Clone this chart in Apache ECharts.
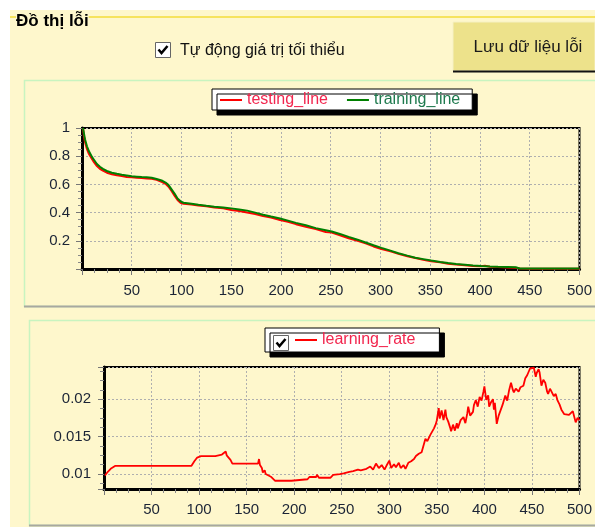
<!DOCTYPE html>
<html>
<head>
<meta charset="utf-8">
<script src="https://cdn.jsdelivr.net/npm/echarts@6/dist/echarts.min.js"></script>
<style>
    html, body { margin: 0; padding: 0; background: #fff; }
    #chart { width: 595px; height: 527px; }
</style>
</head>
<body>
<div id="chart"></div>
<script>
// Error chart (top)
const errorEpochs = [1, 2, 3, 5, 7, 10, 12, 15, 18, 21, 25, 30, 35, 40, 45, 50, 55, 60, 65, 70, 75, 80, 84, 87, 90, 93, 96, 99, 102, 110, 117, 125, 133, 142, 150, 158, 166, 174, 182, 190, 199, 207, 215, 225, 235, 245, 251, 260, 268, 277, 285, 293, 301, 310, 318, 327, 335, 343, 351, 360, 368, 376, 385, 393, 401, 405, 410, 418, 428, 436, 440, 450, 470, 500];
const trainingLine = [1.0, 0.96, 0.92, 0.87, 0.835, 0.795, 0.775, 0.745, 0.725, 0.71, 0.695, 0.683, 0.675, 0.668, 0.663, 0.658, 0.655, 0.652, 0.65, 0.647, 0.638, 0.628, 0.613, 0.595, 0.565, 0.535, 0.5, 0.48, 0.47, 0.462, 0.455, 0.448, 0.442, 0.436, 0.43, 0.422, 0.414, 0.4, 0.385, 0.372, 0.358, 0.343, 0.327, 0.31, 0.29, 0.275, 0.266, 0.247, 0.228, 0.208, 0.188, 0.168, 0.15, 0.13, 0.112, 0.095, 0.08, 0.07, 0.06, 0.05, 0.042, 0.035, 0.03, 0.025, 0.021, 0.02, 0.018, 0.016, 0.014, 0.012, 0.004, 0.003, 0.003, 0.003];
const testingLine = [1.0, 0.94, 0.9, 0.85, 0.815, 0.78, 0.758, 0.73, 0.71, 0.697, 0.683, 0.672, 0.665, 0.66, 0.652, 0.65, 0.648, 0.646, 0.642, 0.64, 0.632, 0.618, 0.604, 0.583, 0.553, 0.52, 0.49, 0.47, 0.462, 0.458, 0.45, 0.445, 0.436, 0.43, 0.418, 0.412, 0.4, 0.39, 0.375, 0.365, 0.348, 0.335, 0.318, 0.3, 0.283, 0.262, 0.258, 0.238, 0.218, 0.2, 0.182, 0.16, 0.142, 0.125, 0.108, 0.09, 0.078, 0.066, 0.055, 0.048, 0.038, 0.032, 0.026, 0.022, 0.02, 0.023, 0.016, 0.014, 0.01, 0.008, 0.003, 0.002, 0.002, 0.002];

// Learning rate (bottom)
const rateEpochs = [1, 4, 7, 12, 92, 95, 98, 102, 117, 119, 124, 126, 128, 129, 131, 133, 135, 162, 163, 164, 166, 167, 169, 170, 173, 176, 180, 197, 199, 214, 216, 223, 224, 226, 238, 241, 248, 252, 258, 262, 267, 270, 276, 280, 283, 286, 289, 292, 295, 297, 300, 302, 305, 307, 310, 312, 315, 317, 320, 323, 326, 328, 331, 334, 336, 338, 340, 343, 345, 347, 349, 350, 352, 353, 355, 357, 359, 360, 362, 364, 365, 367, 369, 371, 372, 375, 378, 380, 382, 383, 385, 388, 389, 391, 393, 395, 397, 399, 400, 402, 404, 405, 407, 409, 410, 411, 413, 415, 417, 419, 422, 424, 426, 428, 430, 431, 433, 436, 438, 441, 443, 445, 447, 448, 450, 452, 454, 455, 457, 458, 460, 462, 464, 466, 467, 469, 471, 473, 475, 477, 479, 481, 482, 484, 486, 489, 491, 493, 494, 496, 498, 500];
const learningRate = [0.0098, 0.0103, 0.0107, 0.0111, 0.0111, 0.0117, 0.0122, 0.0124, 0.0124, 0.0126, 0.0126, 0.0128, 0.0130, 0.0125, 0.0123, 0.0119, 0.0114, 0.0114, 0.0120, 0.0112, 0.0108, 0.0102, 0.0105, 0.0100, 0.0098, 0.0096, 0.0091, 0.0091, 0.0093, 0.0093, 0.0096, 0.0096, 0.0099, 0.0095, 0.0095, 0.0099, 0.0100, 0.0101, 0.0103, 0.0104, 0.0106, 0.0105, 0.0107, 0.0110, 0.0106, 0.0114, 0.0108, 0.0112, 0.0106, 0.0111, 0.0118, 0.0108, 0.0113, 0.0109, 0.0115, 0.0108, 0.0112, 0.0107, 0.0115, 0.0117, 0.0120, 0.0124, 0.0127, 0.0129, 0.0138, 0.0147, 0.0144, 0.0152, 0.0150, 0.0161, 0.0167, 0.0172, 0.0188, 0.0174, 0.0185, 0.0172, 0.0186, 0.0176, 0.0170, 0.0162, 0.0157, 0.0166, 0.0158, 0.0168, 0.0161, 0.0172, 0.0176, 0.0168, 0.0181, 0.0190, 0.0178, 0.0183, 0.0192, 0.0199, 0.0190, 0.0203, 0.0198, 0.0210, 0.0217, 0.0199, 0.0205, 0.0190, 0.0196, 0.0200, 0.0186, 0.0195, 0.0167, 0.0178, 0.0185, 0.0192, 0.0205, 0.0198, 0.0212, 0.0222, 0.0212, 0.0209, 0.0214, 0.0210, 0.0216, 0.0218, 0.0228, 0.0232, 0.0238, 0.0241, 0.0243, 0.0242, 0.0230, 0.0235, 0.0240, 0.0236, 0.0218, 0.0226, 0.0222, 0.0210, 0.0207, 0.0214, 0.0212, 0.0204, 0.0207, 0.0198, 0.0193, 0.0186, 0.0184, 0.0180, 0.0178, 0.0179, 0.0178, 0.0184, 0.0182, 0.0169, 0.0175, 0.0172];

const FONT = 'Liberation Sans, Arial, sans-serif';
const BG = '#FEF7CC';

const zip = (xs, ys) => xs.map((x, i) => [x, ys[i]]);

const axisCommon = (gridIndex, margin) => ({
    gridIndex: gridIndex,
    type: 'value',
    axisLine: { show: true, onZero: false, lineStyle: { color: '#000', width: 3 } },
    axisTick: { show: true, length: 6, lineStyle: { color: '#777' } },
    minorTick: { show: true, splitNumber: 4, length: 4, lineStyle: { color: '#888' } },
    splitLine: { show: true, lineStyle: { color: '#AFAFAF', type: [2, 2], width: 1 } },
    axisLabel: { fontSize: 15, fontFamily: FONT, color: '#1B2436', margin: margin, showMinLabel: false }
});

const legendCommon = {
    orient: 'horizontal',
    icon: 'rect',
    itemWidth: 22,
    itemHeight: 2,
    backgroundColor: '#fff',
    borderColor: '#000',
    borderWidth: 1,
    shadowColor: '#000',
    shadowOffsetX: 5,
    shadowOffsetY: 5,
    shadowBlur: 0,
    selectedMode: false,
    textStyle: { fontSize: 16, fontFamily: FONT }
};

const checkMark = (x, y) => ([
    { type: 'rect', shape: { x: x + 0.5, y: y + 0.5, width: 15, height: 15 }, style: { fill: '#fff', stroke: '#666', lineWidth: 1 }, z: 100 },
    { type: 'polyline', shape: { points: [[x + 3.5, y + 7.5], [x + 6.5, y + 11], [x + 12.5, y + 4]] }, style: { stroke: '#000', lineWidth: 2.5, fill: null }, z: 101 }
]);

const chart = echarts.init(document.getElementById('chart'));

const option = {
    animation: false,
    backgroundColor: '#fff',
    graphic: [
        // form background and group box
        { type: 'rect', shape: { x: 10, y: 10, width: 585, height: 517 }, style: { fill: BG }, z: -10 },
        { type: 'line', shape: { x1: 10, y1: 17, x2: 595, y2: 17 }, style: { stroke: '#F6E35E', lineWidth: 2 }, z: -9 },
        { type: 'text', style: { text: 'Đồ thị lỗi', x: 16, y: 21, font: 'bold 17px ' + FONT, fill: '#000', verticalAlign: 'middle', backgroundColor: BG }, z: -8 },
        ...checkMark(155, 42),
        { type: 'text', style: { text: 'Tự động giá trị tối thiểu', x: 180, y: 51, font: '16px ' + FONT, fill: '#111', verticalAlign: 'middle' } },
        // button
        { type: 'rect', shape: { x: 453, y: 22, width: 142, height: 49 }, style: { fill: '#EDE28B', stroke: '#F6F0C4', lineWidth: 1 } },
        { type: 'line', shape: { x1: 453, y1: 71.5, x2: 595, y2: 71.5 }, style: { stroke: '#111', lineWidth: 2 } },
        { type: 'text', style: { text: 'Lưu dữ liệu lỗi', x: 528, y: 47, font: '17px ' + FONT, fill: '#1a1a1a', align: 'center', verticalAlign: 'middle' } },
        // chart panels
        { type: 'rect', shape: { x: 24.5, y: 80.5, width: 580, height: 226 }, style: { fill: 'none', stroke: '#C8F4C0', lineWidth: 1.5 }, z: -5 },
        { type: 'line', shape: { x1: 24, y1: 306.5, x2: 595, y2: 306.5 }, style: { stroke: '#A8A8A0', lineWidth: 2 }, z: -4 },
        { type: 'rect', shape: { x: 29.5, y: 320.5, width: 575, height: 205 }, style: { fill: 'none', stroke: '#C8F4C0', lineWidth: 1.5 }, z: -5 },
        { type: 'line', shape: { x1: 29, y1: 525.5, x2: 595, y2: 525.5 }, style: { stroke: '#A8A8A0', lineWidth: 2 }, z: -4 },
        // legend checkbox
        ...checkMark(273, 335)
    ],
    legend: [
        Object.assign({}, legendCommon, {
            left: 212,
            top: 89,
            itemGap: 19,
            padding: [3, 12, 2, 8],
            data: [
                { name: 'testing_line', textStyle: { color: '#F2264E' } },
                { name: 'training_line', textStyle: { color: '#1E7A4E' } }
            ]
        }),
        Object.assign({}, legendCommon, {
            left: 265,
            top: 328,
            padding: [4, 24, 4, 30],
            data: [{ name: 'learning_rate', textStyle: { color: '#F2264E' } }]
        })
    ],
    grid: [
        { left: 82, right: 12, top: 128, bottom: 258, show: true, borderColor: '#000', borderWidth: 2, backgroundColor: 'transparent' },
        { left: 104, right: 10, top: 367, bottom: 38, show: true, borderColor: '#000', borderWidth: 2, backgroundColor: 'transparent' }
    ],
    xAxis: [
        Object.assign(axisCommon(0, 14), { min: 0, max: 500, interval: 50 }),
        Object.assign(axisCommon(1, 13), { min: 0, max: 500, interval: 50 })
    ],
    yAxis: [
        Object.assign(axisCommon(0, 12), { min: 0, max: 1, interval: 0.2 }),
        (() => {
            const ax = axisCommon(1, 13);
            ax.min = 0.008;
            ax.max = 0.0243;
            ax.minInterval = 0.005;
            ax.maxInterval = 0.005;
            ax.axisLabel.showMaxLabel = false;
            return ax;
        })()
    ],
    series: [
        {
            name: 'testing_line',
            type: 'line',
            xAxisIndex: 0,
            yAxisIndex: 0,
            showSymbol: false,
            color: '#FF0000',
            lineStyle: { width: 2 },
            data: zip(errorEpochs, testingLine)
        },
        {
            name: 'training_line',
            type: 'line',
            xAxisIndex: 0,
            yAxisIndex: 0,
            showSymbol: false,
            color: '#008000',
            lineStyle: { width: 2 },
            data: zip(errorEpochs, trainingLine)
        },
        {
            name: 'learning_rate',
            type: 'line',
            xAxisIndex: 1,
            yAxisIndex: 1,
            showSymbol: false,
            color: '#FF0000',
            lineStyle: { width: 1.8 },
            data: zip(rateEpochs, learningRate)
        }
    ]
};

chart.setOption(option);
</script>
</body>
</html>
